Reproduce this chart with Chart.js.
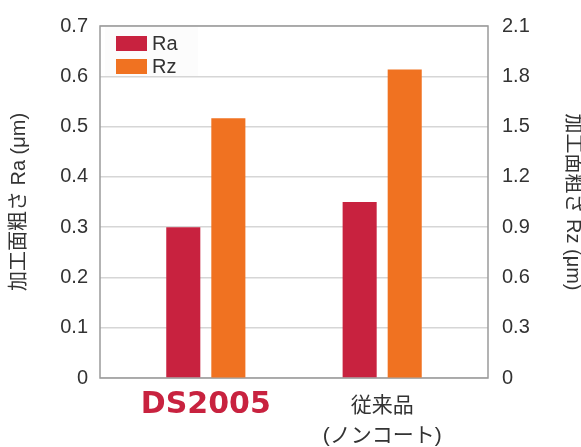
<!DOCTYPE html>
<html>
<head>
<meta charset="utf-8">
<script src="https://cdn.jsdelivr.net/npm/chart.js@4/dist/chart.umd.min.js"></script>
<style>
  html, body { margin: 0; padding: 0; background: #fff; }
</style>
</head>
<body>
<canvas id="roughChart" width="581" height="447"></canvas>
<script>
// Data
const categories = ['DS2005', ['従来品', '(ノンコート)']];
const raValues = [0.30, 0.35];   // left axis (Ra)
const rzValues = [1.55, 1.84];   // right axis (Rz)
const raTicks = [0, 0.1, 0.2, 0.3, 0.4, 0.5, 0.6, 0.7];
const rzTicks = [0, 0.3, 0.6, 0.9, 1.2, 1.5, 1.8, 2.1];

const RED = '#c8223f';
const ORANGE = '#f07221';
const TEXT = '#333333';
const FONT = '"Liberation Sans", Arial, sans-serif';
const JP_FONT = '"Liberation Sans", "Noto Sans CJK JP", sans-serif';

const fmt = v => v === 0 ? '0' : v.toFixed(1);

// Frame round the plot area (grey box)
const framePlugin = {
  id: 'frame',
  beforeDatasetsDraw(chart) {
    const { ctx, chartArea: a } = chart;
    ctx.save();
    ctx.strokeStyle = '#9a9a9a';
    ctx.lineWidth = 1.5;
    ctx.strokeRect(a.left, a.top, a.right - a.left, a.bottom - a.top);
    ctx.restore();
  }
};

// Legend drawn inside the plot area, top-left
const innerLegend = {
  id: 'innerLegend',
  afterDatasetsDraw(chart) {
    const { ctx, chartArea: a } = chart;
    const x0 = a.left + 5, y0 = a.top + 1;
    ctx.save();
    ctx.fillStyle = '#fcfcfc';
    ctx.fillRect(x0, y0, 93, 49);
    ctx.font = '20px ' + FONT;
    ctx.textBaseline = 'middle';
    chart.data.datasets.forEach((ds, i) => {
      const y = y0 + 9 + i * 23;
      ctx.fillStyle = ds.backgroundColor;
      ctx.fillRect(x0 + 11, y, 31, 15);
      ctx.fillStyle = TEXT;
      ctx.fillText(ds.label, x0 + 47, y + 8);
    });
    ctx.restore();
  }
};

new Chart(document.getElementById('roughChart').getContext('2d'), {
  type: 'bar',
  data: {
    datasets: [
      {
        label: 'Ra',
        data: raValues.map((v, i) => ({ x: i, y: v })),
        backgroundColor: RED,
        yAxisID: 'y'
      },
      {
        label: 'Rz',
        data: rzValues.map((v, i) => ({ x: i, y: v })),
        backgroundColor: ORANGE,
        yAxisID: 'y1'
      }
    ]
  },
  options: {
    responsive: false,
    animation: false,
    categoryPercentage: 0.511,
    barPercentage: 0.756,
    layout: { padding: { top: 22, left: 0, right: 0, bottom: 0 } },
    plugins: {
      legend: { display: false },
      tooltip: { enabled: false }
    },
    scales: {
      x: {
        type: 'linear',
        offset: false,
        min: -0.6,
        max: 1.6,
        grid: { display: false, offset: false },
        border: { display: false },
        afterBuildTicks: s => { s.ticks = categories.map((c, i) => ({ value: i })); },
        afterFit: s => { s.height = 69; },
        ticks: {
          padding: 5,
          maxRotation: 0,
          autoSkip: false,
          callback: v => categories[v],
          color: c => c.index === 0 ? RED : TEXT,
          font: c => c.index === 0
            ? { family: '"DejaVu Sans", sans-serif', size: 30, weight: 'bold', lineHeight: '28px' }
            : { family: JP_FONT, size: 21, lineHeight: '30px' }
        }
      },
      y: {
        position: 'left',
        min: raTicks[0],
        max: raTicks[raTicks.length - 1],
        afterBuildTicks: s => { s.ticks = raTicks.map(v => ({ value: v })); },
        afterFit: s => { s.width = 100; },
        grid: { color: '#d6d6d6', lineWidth: 1.5, drawTicks: false },
        border: { display: false },
        ticks: { padding: 12, color: TEXT, font: { family: FONT, size: 20 }, callback: fmt },
        title: {
          display: true,
          text: '加工面粗さ Ra (μm)',
          color: TEXT,
          font: { family: JP_FONT, size: 20 },
          padding: { top: 7, bottom: 0 }
        }
      },
      y1: {
        position: 'right',
        min: rzTicks[0],
        max: rzTicks[rzTicks.length - 1],
        afterBuildTicks: s => { s.ticks = rzTicks.map(v => ({ value: v })); },
        afterFit: s => { s.width = 93; },
        grid: { drawOnChartArea: false, drawTicks: false },
        border: { display: false },
        ticks: { padding: 14, color: TEXT, font: { family: FONT, size: 20 }, callback: fmt },
        title: {
          display: true,
          text: '加工面粗さ Rz (μm)',
          color: TEXT,
          font: { family: JP_FONT, size: 20, lineHeight: 0.8 },
          padding: { top: 0, bottom: 0 }
        }
      }
    }
  },
  plugins: [framePlugin, innerLegend]
});
</script>
</body>
</html>
